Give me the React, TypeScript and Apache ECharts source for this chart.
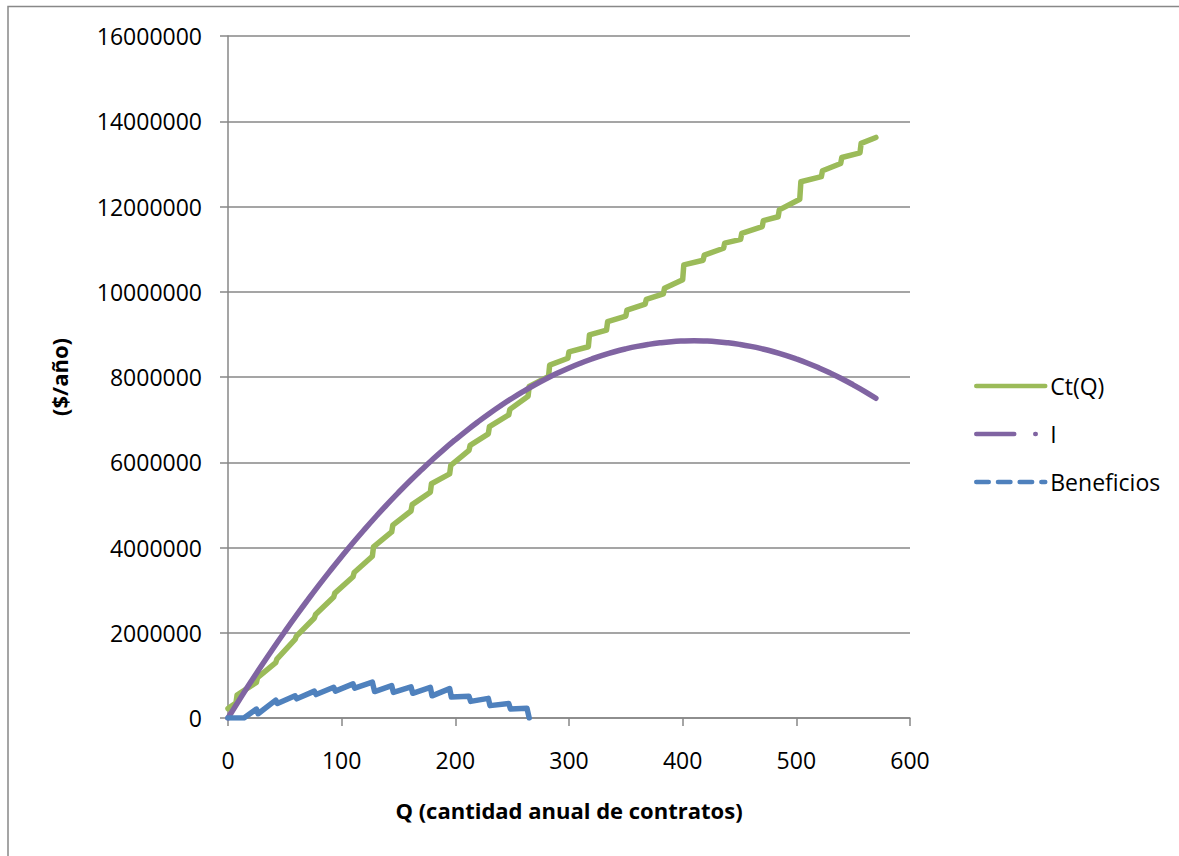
import { useEffect, useRef } from "react";
import * as echarts from "echarts";

// Costo total Ct(Q): escalones (antes y después de cada salto)
const ctQ = [
  0, 7, 8, 25, 26, 42, 43, 59, 60, 76, 77, 93, 94, 110, 111, 127, 128, 144, 145,
  161, 162, 178, 179, 195, 196, 212, 213, 229, 230, 247, 248, 264, 265, 282, 283,
  299, 300, 317, 318, 333, 334, 350, 351, 367, 368, 383, 384, 400, 401, 418, 419,
  436, 437, 451, 452, 470, 471, 484, 485, 503, 504, 522, 523, 539, 540, 556, 557, 570,
];
const ctValues = [
  220000, 350000, 540000, 836000, 946000, 1300000, 1380000, 1844000, 1914000,
  2347000, 2427000, 2840000, 2930000, 3312000, 3412000, 3794000, 4014000, 4365000,
  4525000, 4856000, 5006000, 5296000, 5496000, 5726000, 5926000, 6276000, 6396000,
  6665000, 6835000, 7111000, 7241000, 7550000, 7780000, 8010000, 8280000, 8440000,
  8590000, 8710000, 8990000, 9100000, 9300000, 9430000, 9570000, 9710000, 9820000,
  9950000, 10080000, 10280000, 10630000, 10740000, 10860000, 11020000, 11140000,
  11230000, 11370000, 11530000, 11670000, 11760000, 11920000, 12170000, 12580000,
  12700000, 12840000, 13010000, 13150000, 13260000, 13480000, 13620000,
];

// Ingreso I(Q)
const iQ = [
  0, 10, 20, 30, 40, 50, 60, 70, 80, 90, 100, 110, 120, 130, 140, 150, 160, 170,
  180, 190, 200, 210, 220, 230, 240, 250, 260, 270, 280, 290, 300, 310, 320, 330,
  340, 350, 360, 370, 380, 390, 400, 410, 420, 430, 440, 450, 460, 470, 480, 490,
  500, 510, 520, 530, 540, 550, 560, 570,
];
const iValues = [
  0, 426000, 842000, 1248000, 1643000, 2027000, 2401000, 2764000, 3117000, 3459000,
  3791000, 4112000, 4422000, 4722000, 5012000, 5291000, 5560000, 5817000, 6065000,
  6302000, 6528000, 6744000, 6949000, 7144000, 7328000, 7502000, 7665000, 7818000,
  7960000, 8092000, 8213000, 8323000, 8423000, 8513000, 8592000, 8660000, 8718000,
  8765000, 8802000, 8829000, 8844000, 8850000, 8844000, 8829000, 8802000, 8765000,
  8718000, 8660000, 8592000, 8513000, 8423000, 8323000, 8212000, 8091000, 7960000,
  7817000, 7665000, 7501000,
];

// Beneficios
const bQ = [
  0, 14, 25, 26.5, 42, 43.5, 59, 60.5, 76, 77.5, 93, 94.5, 110, 111.5, 127, 129,
  144, 145.5, 161, 162.5, 178, 179.5, 195, 196.5, 212, 213.5, 229, 230.5, 247, 248.5,
  263, 265,
];
const bValues = [
  0, 0, 210000, 100000, 420000, 340000, 520000, 450000, 630000, 550000, 720000,
  630000, 800000, 700000, 840000, 620000, 760000, 600000, 730000, 580000, 720000,
  520000, 690000, 490000, 510000, 390000, 460000, 290000, 340000, 210000, 230000, 0,
];

const seriesNames = ["Ct(Q)", "I", "Beneficios"];
const xAxisRange = { min: 0, max: 600, step: 100 };
const yAxisRange = { min: 0, max: 16000000, step: 2000000 };
const xTitle = "Q (cantidad anual de contratos)";
const yTitle = "($/año)";

const GREEN = "#9bbb59";
const PURPLE = "#8064a2";
const BLUE = "#4f81bd";
const GRID_GRAY = "#878787";
const FONT = "'Open Sans', sans-serif";

const pairs = (xs: number[], ys: number[]) => xs.map((x, i) => [x, ys[i]]);

export default function App() {
  const ref = useRef<HTMLDivElement>(null);

  useEffect(() => {
    if (!ref.current) return;
    const chart = echarts.init(ref.current, undefined, { renderer: "svg" });

    const axisLine = { show: true, lineStyle: { color: GRID_GRAY, width: 1.5 } };
    const axisTick = { show: true, length: 8, lineStyle: { color: GRID_GRAY, width: 1.5 } };
    const labelStyle = { fontSize: 23, color: "#000", fontFamily: FONT };
    const titleStyle = { fontSize: 22, fontWeight: "bold" as const, color: "#000", fontFamily: FONT };
    const hiddenSymbol = { opacity: 0 };

    chart.setOption({
      animation: false,
      backgroundColor: "#ffffff",
      textStyle: { fontFamily: FONT },
      graphic: [
        {
          type: "rect",
          silent: true,
          z: -10,
          shape: { x: 8, y: 6.5, width: 1400, height: 1000 },
          style: { fill: "none", stroke: "#888888", lineWidth: 1.5 },
        },
      ],
      grid: { left: 228, top: 36, width: 682, height: 682, containLabel: false },
      xAxis: {
        type: "value",
        min: xAxisRange.min,
        max: xAxisRange.max,
        interval: xAxisRange.step,
        name: xTitle,
        nameLocation: "middle",
        nameGap: 81,
        nameTextStyle: titleStyle,
        axisLine,
        axisTick,
        axisLabel: { ...labelStyle, margin: 30 },
        splitLine: { show: false },
      },
      yAxis: {
        type: "value",
        min: yAxisRange.min,
        max: yAxisRange.max,
        interval: yAxisRange.step,
        name: yTitle,
        nameLocation: "middle",
        nameGap: 158,
        nameRotate: 90,
        nameTextStyle: titleStyle,
        axisLine,
        axisTick,
        axisLabel: { ...labelStyle, margin: 26, formatter: (v: number) => String(v) },
        splitLine: { show: true, lineStyle: { color: GRID_GRAY, width: 1.5 } },
      },
      legend: {
        orient: "vertical",
        left: 974,
        top: 374,
        padding: 0,
        itemWidth: 69,
        itemHeight: 14,
        itemGap: 24,
        textStyle: { fontSize: 23, color: "#000", fontFamily: FONT, lineHeight: 24 },
        data: [
          {
            name: seriesNames[0],
            itemStyle: hiddenSymbol,
            lineStyle: { type: "solid", width: 4.5, cap: "round" },
          },
          {
            name: seriesNames[1],
            itemStyle: hiddenSymbol,
            lineStyle: { type: [38, 21, 0.5, 100], width: 4.5, cap: "round" },
          },
          {
            name: seriesNames[2],
            itemStyle: hiddenSymbol,
            lineStyle: { type: [12.5, 9.2], width: 4.5, cap: "round" },
          },
        ],
      },
      series: [
        {
          name: seriesNames[0],
          type: "line",
          symbol: "none",
          data: pairs(ctQ, ctValues),
          lineStyle: { color: GREEN, width: 5.5, cap: "round", join: "round" },
          itemStyle: { color: GREEN },
        },
        {
          name: seriesNames[1],
          type: "line",
          symbol: "none",
          smooth: true,
          data: pairs(iQ, iValues),
          lineStyle: { color: PURPLE, width: 5.5, cap: "round", join: "round" },
          itemStyle: { color: PURPLE },
        },
        {
          name: seriesNames[2],
          type: "line",
          symbol: "none",
          data: pairs(bQ, bValues),
          lineStyle: { color: BLUE, width: 5.5, cap: "round", join: "round" },
          itemStyle: { color: BLUE },
        },
      ],
    });

    return () => chart.dispose();
  }, []);

  return (
    <div
      ref={ref}
      style={{ position: "fixed", left: 0, top: 0, width: 1179, height: 856, background: "#fff" }}
    />
  );
}
